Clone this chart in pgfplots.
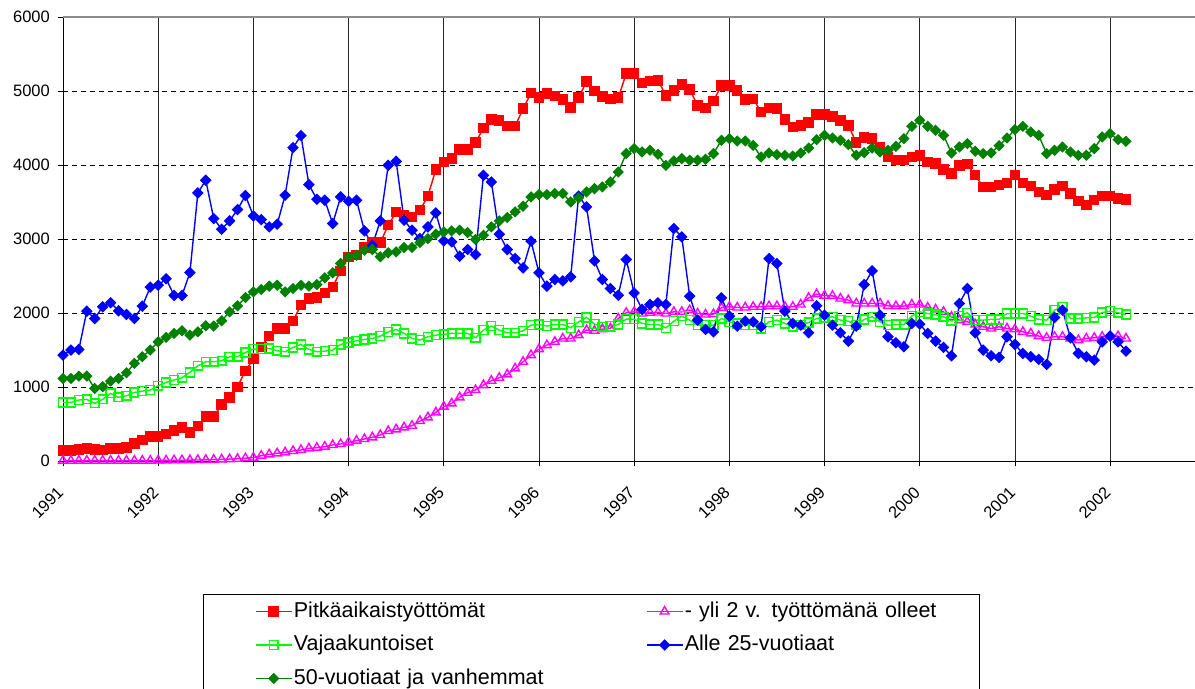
\documentclass[border=0pt]{standalone}
\usepackage{fontspec}
\setmainfont{Liberation Sans}
\usepackage{pgfplots}
\pgfplotsset{compat=1.18}
\usepackage{pgfplotstable}
\definecolor{cRed}{RGB}{255,0,0}
\definecolor{cMag}{RGB}{255,0,255}
\definecolor{cLime}{RGB}{0,255,0}
\definecolor{cBlue}{RGB}{0,0,255}
\definecolor{cDkG}{RGB}{0,128,0}

\pgfplotstableread{
i red mag lime blue dkg
0 140 5 792 1431 1116
1 140 5 792 1499 1116
2 158 5 824 1508 1148
3 171 5 833 2025 1148
4 158 5 779 1926 981
5 149 5 833 2084 1004
6 171 5 914 2138 1080
7 171 5 860 2030 1116
8 185 5 882 1980 1193
9 239 5 927 1926 1319
10 284 5 945 2093 1409
11 329 5 959 2349 1499
12 329 8 1017 2376 1611
13 365 8 1062 2462 1670
14 410 10 1094 2237 1724
15 455 10 1125 2237 1760
16 383 12 1197 2547 1701
17 477 14 1287 3623 1746
18 599 16 1341 3794 1827
19 599 18 1341 3276 1823
20 765 22 1355 3132 1895
21 860 26 1409 3245 2016
22 1004 30 1409 3398 2097
23 1220 38 1467 3587 2210
24 1377 45 1512 3312 2286
25 1544 72 1512 3262 2318
26 1688 90 1521 3164 2363
27 1791 104 1490 3200 2376
28 1791 117 1476 3591 2286
29 1895 135 1535 4235 2331
30 2106 149 1575 4397 2376
31 2196 171 1508 3735 2363
32 2210 180 1476 3537 2385
33 2273 194 1485 3524 2475
34 2354 216 1499 3209 2543
35 2570 230 1575 3569 2669
36 2759 252 1602 3510 2759
37 2781 275 1625 3524 2781
38 2885 297 1643 3110 2849
39 2952 320 1656 2916 2858
40 2952 351 1688 3245 2759
41 3186 405 1746 3996 2813
42 3366 428 1778 4050 2826
43 3321 455 1724 3254 2885
44 3299 477 1656 3119 2885
45 3389 540 1634 3006 2952
46 3582 590 1679 3164 3006
47 3938 657 1701 3353 3065
48 4041 735 1712 2975 3096
49 4086 779 1724 2961 3110
50 4207 860 1724 2768 3119
51 4207 923 1724 2858 3087
52 4302 959 1665 2790 2993
53 4500 1026 1769 3861 3051
54 4613 1085 1823 3771 3164
55 4604 1125 1769 3065 3245
56 4527 1170 1733 2858 3290
57 4527 1251 1733 2736 3366
58 4761 1341 1760 2610 3443
59 4973 1431 1836 2970 3569
60 4910 1512 1845 2543 3600
61 4964 1566 1823 2363 3600
62 4932 1611 1845 2453 3614
63 4883 1656 1845 2435 3614
64 4775 1656 1800 2489 3501
65 4910 1701 1881 3582 3555
66 5130 1769 1940 3434 3636
67 5000 1760 1850 2705 3681
68 4928 1782 1814 2453 3704
69 4896 1791 1823 2331 3771
70 4910 1926 1845 2241 3906
71 5234 2003 1917 2723 4154
72 5234 2016 1917 2270 4221
73 5108 1994 1859 2048 4176
74 5135 2003 1845 2115 4199
75 5144 2007 1845 2138 4145
76 4941 1994 1800 2115 3996
77 5009 2016 1890 3141 4055
78 5090 2016 1958 3029 4086
79 5022 2039 1904 2228 4064
80 4806 1994 1836 1904 4064
81 4770 1980 1836 1778 4077
82 4865 1985 1836 1746 4154
83 5076 2070 1926 2205 4334
84 5076 2084 1881 1958 4356
85 5009 2075 1859 1823 4325
86 4883 2075 1836 1890 4325
87 4896 2084 1836 1881 4266
88 4716 2084 1791 1814 4109
89 4770 2093 1881 2736 4163
90 4761 2093 1904 2669 4140
91 4617 2084 1859 2025 4131
92 4514 2084 1814 1859 4122
93 4536 2115 1836 1836 4163
94 4572 2205 1872 1733 4230
95 4685 2255 1926 2097 4343
96 4685 2235 1940 1971 4401
97 4658 2232 1949 1836 4365
98 4604 2196 1904 1733 4334
99 4536 2174 1890 1620 4275
100 4302 2129 1836 1823 4131
101 4370 2129 1913 2385 4167
102 4356 2129 1949 2570 4230
103 4244 2129 1881 1971 4176
104 4109 2097 1836 1679 4199
105 4064 2093 1845 1598 4253
106 4064 2093 1845 1544 4356
107 4109 2115 1958 1859 4523
108 4131 2115 2016 1850 4604
109 4041 2075 1994 1724 4523
110 4019 2048 1980 1620 4469
111 3942 2016 1949 1535 4401
112 3884 1949 1895 1422 4163
113 3996 1904 1958 2129 4244
114 4010 1881 2003 2331 4289
115 3861 1845 1904 1733 4185
116 3704 1814 1904 1499 4154
117 3704 1791 1913 1422 4163
118 3726 1814 1913 1400 4262
119 3758 1791 1994 1679 4365
120 3861 1780 1994 1575 4478
121 3758 1746 1994 1454 4523
122 3713 1724 1958 1409 4446
123 3636 1688 1913 1373 4401
124 3591 1665 1904 1305 4154
125 3668 1679 2039 1940 4199
126 3713 1679 2084 2039 4244
127 3614 1656 1926 1665 4176
128 3515 1634 1926 1454 4131
129 3456 1656 1935 1409 4131
130 3524 1665 1940 1364 4221
131 3578 1679 2007 1611 4379
132 3578 1688 2025 1688 4424
133 3546 1688 2003 1611 4343
134 3533 1656 1980 1485 4320
}\data

\begin{document}
\begin{tikzpicture}
\useasboundingbox (0,0) rectangle (1195bp,-689bp);
\draw[black, line width=1bp] (203bp,-594bp) rectangle (979bp,-720bp);
\begin{axis}[
  at={(63bp,-461bp)}, anchor=south west,
  scale only axis, width=1132bp, height=444bp,
  xmin=0, xmax=142.7, ymin=0, ymax=6000,
  clip=false,
  axis x line*=bottom, axis y line*=left,
  axis line style={-, black, line width=1bp},
  xtick={0,12,...,132},
  xticklabels={1991,1992,1993,1994,1995,1996,1997,1998,1999,2000,2001,2002},
  ytick={0,1000,...,6000},
  tick align=outside, major tick length=5bp,
  tick style={black, line width=0.8bp},
  xmajorgrids, ymajorgrids,
  x grid style={black!85, line width=0.8bp},
  y grid style={black, line width=0.8bp, dash pattern=on 5bp off 4bp},
  /pgf/number format/assume math mode=true,
  /pgf/number format/1000 sep={},
  ticklabel style={font=\fontsize{16.5bp}{19bp}\selectfont},
  xticklabel style={xshift=-1bp, yshift=-22bp, rotate=45, anchor=east, inner sep=2bp},
  yticklabel style={inner sep=2bp, xshift=-6bp},
  legend columns=2,
  legend cell align=left,
  legend image code/.code={\draw[mark repeat=2, mark phase=2, #1] plot coordinates {(0bp,0bp) (18bp,0bp) (36bp,0bp)};},
  legend style={draw=none, fill=none, at={(0.1696,-0.3176)}, anchor=north west,
    inner sep=0pt, outer sep=0pt, row sep=14.5bp,
    font=\fontsize{21.5bp}{25bp}\selectfont,
    nodes={inner sep=0pt, text height=15bp, text depth=4bp},
    /tikz/every odd column/.append style={column sep=1.5bp},
    /tikz/every even column/.append style={column sep=12bp, text width=340bp}},
]
\addplot[cRed, line width=1.4bp, mark=square*, mark size=4.5bp, mark options={solid, fill=cRed, draw=cRed}] table[x=i, y=red] {\data};
\addlegendentry{Pitkäaikaistyöttömät}
\addplot[cMag, line width=1.4bp, mark=triangle, mark size=5bp, mark options={solid, draw=cMag, fill=white}] table[x=i, y=mag] {\data};
\addlegendentry{- yli 2 v. työttömänä olleet}
\addplot[cLime, line width=1.4bp, mark=square, mark size=4.4bp, mark options={solid, draw=cLime, fill=white}] table[x=i, y=lime] {\data};
\addlegendentry{Vajaakuntoiset}
\addplot[cBlue, line width=1.4bp, mark=square*, mark size=3.4bp, mark options={solid, fill=cBlue, draw=cBlue, rotate=45}] table[x=i, y=blue] {\data};
\addlegendentry{Alle 25-vuotiaat}
\addplot[cDkG, line width=1.4bp, mark=square*, mark size=3.3bp, mark options={solid, fill=cDkG, draw=cDkG, rotate=45}] table[x=i, y=dkg] {\data};
\addlegendentry{50-vuotiaat ja vanhemmat}
\draw[black!45, line width=1.5bp] (rel axis cs:0,1) -- (rel axis cs:1,1);
\end{axis}
\end{tikzpicture}
\end{document}
